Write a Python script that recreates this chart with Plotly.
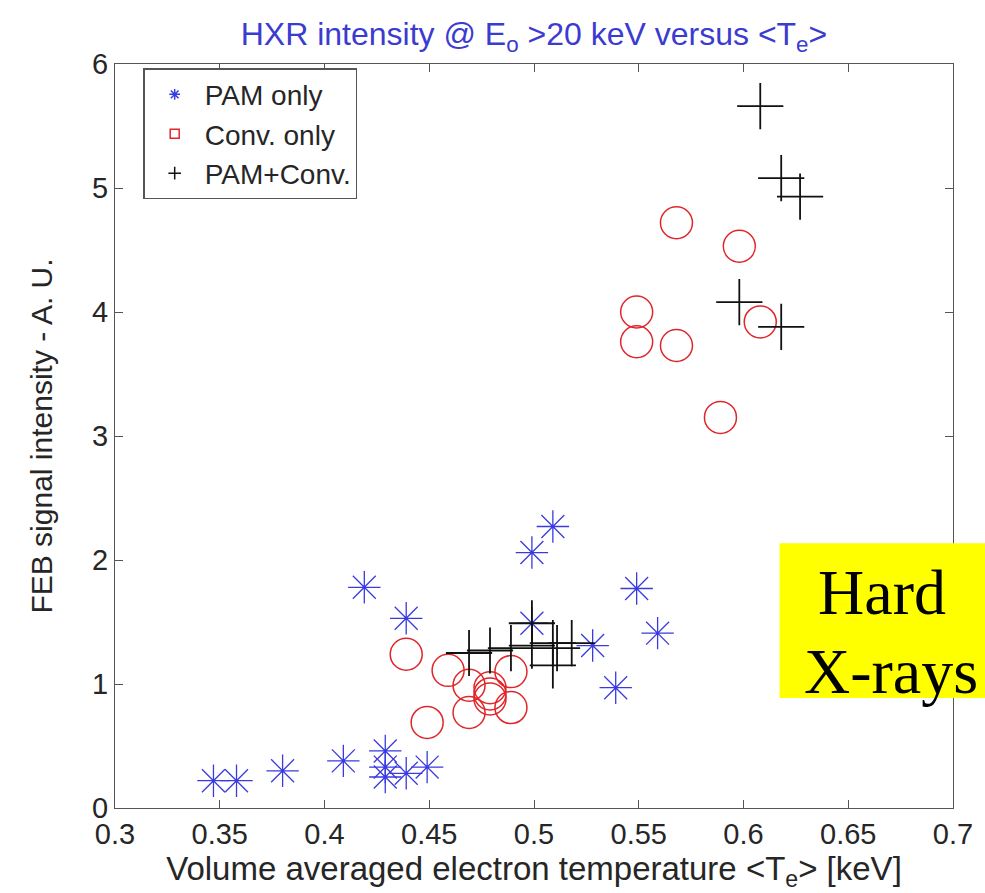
import plotly.graph_objects as go

# PAM only shots (blue asterisks)
pam_te = [0.347, 0.358, 0.38, 0.409, 0.429, 0.429, 0.429, 0.439, 0.449,
          0.419, 0.439, 0.499, 0.509, 0.499, 0.528, 0.539, 0.549, 0.559]
pam_hxr = [0.22, 0.22, 0.30, 0.38, 0.46, 0.33, 0.25, 0.28, 0.33,
           1.78, 1.53, 2.06, 2.27, 1.49, 1.31, 0.97, 1.77, 1.41]

# Conventional only shots (red circles)
conv_te = [0.439, 0.459, 0.469, 0.469, 0.479, 0.479, 0.479, 0.489, 0.489, 0.449,
           0.568, 0.598, 0.549, 0.549, 0.568, 0.608, 0.589]
conv_hxr = [1.24, 1.11, 0.99, 0.77, 0.97, 0.92, 0.88, 1.10, 0.81, 0.69,
            4.72, 4.53, 4.00, 3.76, 3.73, 3.92, 3.15]

# PAM + conventional shots (black crosses)
both_te = [0.469, 0.479, 0.489, 0.499, 0.499, 0.509, 0.509, 0.518, 0.511,
           0.608, 0.618, 0.627, 0.598, 0.618]
both_hxr = [1.25, 1.27, 1.29, 1.49, 1.31, 1.33, 1.15, 1.33, 1.29,
            5.66, 5.08, 4.93, 4.08, 3.88]

x_ticks = [0.3, 0.35, 0.4, 0.45, 0.5, 0.55, 0.6, 0.65, 0.7]
x_tick_text = ["0.3", "0.35", "0.4", "0.45", "0.5", "0.55", "0.6", "0.65", "0.7"]
y_ticks = [0, 1, 2, 3, 4, 5, 6]

BLUE = "#3a3ae0"
RED = "#e0262a"
BLACK = "#111111"
AXIS = "#555555"
TEXT = "#262626"
FONT = "Liberation Sans, Arial, sans-serif"
SERIF = "Liberation Serif, Times New Roman, serif"

fig = go.Figure()

fig.add_trace(go.Scatter(
    x=pam_te, y=pam_hxr, mode="markers", name="PAM only", showlegend=False,
    marker=dict(symbol="asterisk-open", size=27, color=BLUE,
                line=dict(color=BLUE, width=1.3)),
))
fig.add_trace(go.Scatter(
    x=conv_te, y=conv_hxr, mode="markers", name="Conv. only", showlegend=False,
    marker=dict(symbol="circle-open", size=32, color=RED,
                line=dict(color=RED, width=1.5)),
))
fig.add_trace(go.Scatter(
    x=both_te, y=both_hxr, mode="markers", name="PAM+Conv.", showlegend=False,
    marker=dict(symbol="cross-thin-open", size=33, color=BLACK,
                line=dict(color=BLACK, width=1.8)),
))

# small legend symbols
for name, sym, col in [("PAM only", "asterisk-open", BLUE),
                       ("Conv. only", "square-open", RED),
                       ("PAM+Conv.", "cross-thin-open", BLACK)]:
    fig.add_trace(go.Scatter(
        x=[None], y=[None], mode="markers", name=name,
        marker=dict(symbol=sym, size=9, color=col, line=dict(color=col, width=1.5)),
    ))

axis_common = dict(
    showgrid=False, zeroline=False, showline=True, linecolor=AXIS, linewidth=1.2,
    mirror="ticks", ticks="inside", ticklen=8, tickcolor=AXIS,
    tickfont=dict(family=FONT, size=29, color=TEXT),
)

fig.update_layout(
    width=985, height=893,
    margin=dict(l=115, r=30, t=64, b=85),
    paper_bgcolor="white", plot_bgcolor="white",
    title=dict(
        text="HXR intensity @ E<sub>o</sub> &gt;20 keV versus &lt;T<sub>e</sub>&gt;",
        x=0.5, xanchor="center", xref="paper", y=0.962, yanchor="middle",
        font=dict(family=FONT, size=32, color="#3b3bd0"),
    ),
    xaxis=dict(range=[0.3, 0.7], tickvals=x_ticks, ticktext=x_tick_text,
               title=dict(text="Volume averaged electron temperature &lt;T<sub>e</sub>&gt; [keV]",
                          font=dict(family=FONT, size=33, color=TEXT), standoff=0),
               **axis_common),
    yaxis=dict(range=[0, 6], tickvals=y_ticks,
               title=dict(text="FEB signal intensity - A. U.",
                          font=dict(family=FONT, size=30, color=TEXT), standoff=30),
               **axis_common),
    legend=dict(
        x=0.034, y=0.994, xanchor="left", yanchor="top",
        bgcolor="white", bordercolor=AXIS, borderwidth=1.2,
        font=dict(family=FONT, size=28, color=TEXT),
        itemsizing="trace", itemwidth=50, tracegroupgap=0,
    ),
    showlegend=True,
)

# yellow label box
fig.add_shape(type="rect", xref="paper", yref="paper",
              x0=0.793, x1=1.04, y0=0.148, y1=0.356,
              fillcolor="#ffff00", line=dict(width=0), layer="above")
fig.add_annotation(xref="paper", yref="paper", x=0.915, y=0.290,
                   xanchor="center", yanchor="middle",
                   text="Hard", showarrow=False,
                   font=dict(family=SERIF, size=64, color="black"))
fig.add_annotation(xref="paper", yref="paper", x=0.926, y=0.183,
                   xanchor="center", yanchor="middle",
                   text="X-rays", showarrow=False,
                   font=dict(family=SERIF, size=64, color="black"))

fig.write_html("out.html")
